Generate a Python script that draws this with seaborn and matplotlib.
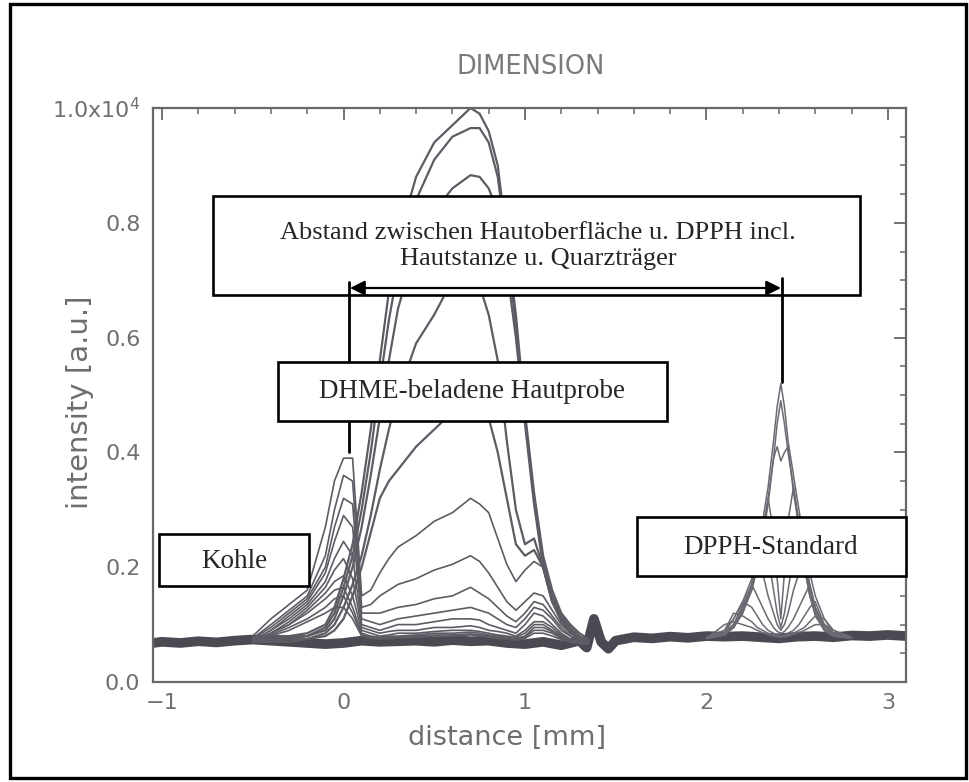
import matplotlib
matplotlib.use("Agg")
import matplotlib.pyplot as plt
from matplotlib.patches import Rectangle, FancyArrowPatch
from matplotlib.lines import Line2D
from matplotlib.ticker import MultipleLocator
import pandas as pd
import seaborn as sns

# ---------------------------------------------------------------------------
# Profile data (distance in mm, intensity in units of 1e4)
# ---------------------------------------------------------------------------

# noisy common baseline over the whole scan range
BASE_X = [-1.05, -1.0, -0.9, -0.8, -0.7, -0.6, -0.5, -0.4, -0.3, -0.2, -0.1, 0.0,
          0.1, 0.2, 0.3, 0.4, 0.5, 0.6, 0.7, 0.8, 0.9, 1.0, 1.1, 1.2, 1.3, 1.34,
          1.38, 1.42, 1.46, 1.5, 1.6, 1.7, 1.8, 1.9, 2.0, 2.1, 2.2, 2.3, 2.4, 2.5,
          2.6, 2.7, 2.8, 2.9, 3.0, 3.1]
BASE_Y = [0.068, 0.070, 0.068, 0.071, 0.069, 0.072, 0.074, 0.072, 0.070, 0.068,
          0.066, 0.068, 0.072, 0.070, 0.071, 0.072, 0.070, 0.073, 0.071, 0.072,
          0.068, 0.066, 0.070, 0.064, 0.072, 0.060, 0.110, 0.070, 0.058, 0.072,
          0.078, 0.076, 0.079, 0.077, 0.080, 0.079, 0.080, 0.078, 0.076, 0.079,
          0.080, 0.078, 0.081, 0.080, 0.082, 0.080]

# carbon marker + skin sample region
SKIN_X = [-0.5, -0.4, -0.3, -0.2, -0.1, -0.05, 0.0, 0.05, 0.1, 0.15, 0.2, 0.25,
          0.3, 0.4, 0.5, 0.6, 0.7, 0.75, 0.8, 0.85, 0.9, 0.95, 1.0, 1.05, 1.1,
          1.15, 1.2, 1.25, 1.3, 1.35]

DOME_1 = [0.075, 0.08, 0.08, 0.085, 0.10, 0.13, 0.18, 0.24, 0.33, 0.44, 0.56, 0.68,
          0.77, 0.88, 0.94, 0.97, 1.0, 0.99, 0.96, 0.90, 0.77, 0.64, 0.47, 0.33,
          0.22, 0.16, 0.12, 0.10, 0.085, 0.075]
DOME_2 = [0.072, 0.075, 0.08, 0.08, 0.095, 0.12, 0.165, 0.22, 0.30, 0.40, 0.52, 0.63,
          0.72, 0.84, 0.91, 0.95, 0.965, 0.965, 0.94, 0.88, 0.76, 0.62, 0.46, 0.32,
          0.21, 0.15, 0.115, 0.095, 0.08, 0.072]
DOME_3 = [0.07, 0.075, 0.075, 0.08, 0.09, 0.11, 0.15, 0.20, 0.27, 0.36, 0.46, 0.56,
          0.65, 0.76, 0.82, 0.86, 0.883, 0.88, 0.86, 0.82, 0.72, 0.60, 0.45, 0.31,
          0.20, 0.14, 0.11, 0.09, 0.078, 0.07]
DOME_4 = [0.07, 0.07, 0.075, 0.075, 0.085, 0.10, 0.13, 0.17, 0.22, 0.29, 0.37, 0.44,
          0.50, 0.59, 0.64, 0.70, 0.72, 0.69, 0.64, 0.56, 0.42, 0.30, 0.24, 0.25,
          0.20, 0.14, 0.11, 0.09, 0.075, 0.07]
DOME_5 = [0.07, 0.07, 0.07, 0.075, 0.08, 0.09, 0.11, 0.15, 0.20, 0.26, 0.32, 0.35,
          0.37, 0.41, 0.44, 0.47, 0.50, 0.49, 0.46, 0.40, 0.32, 0.24, 0.22, 0.23,
          0.20, 0.14, 0.105, 0.085, 0.075, 0.07]

SCAN_1 = [0.08, 0.11, 0.135, 0.16, 0.27, 0.35, 0.39, 0.39, 0.15, 0.16, 0.19, 0.215,
          0.235, 0.255, 0.28, 0.295, 0.32, 0.31, 0.295, 0.25, 0.205, 0.175, 0.195,
          0.21, 0.20, 0.15, 0.115, 0.09, 0.075, 0.07]
SCAN_2 = [0.076, 0.10, 0.125, 0.15, 0.22, 0.30, 0.36, 0.35, 0.13, 0.135, 0.15, 0.16,
          0.17, 0.18, 0.195, 0.205, 0.22, 0.21, 0.19, 0.165, 0.14, 0.125, 0.14,
          0.155, 0.15, 0.125, 0.10, 0.085, 0.075, 0.07]
SCAN_3 = [0.075, 0.095, 0.12, 0.145, 0.20, 0.27, 0.32, 0.31, 0.12, 0.12, 0.12, 0.125,
          0.13, 0.135, 0.145, 0.15, 0.165, 0.155, 0.145, 0.13, 0.115, 0.105, 0.12,
          0.14, 0.135, 0.115, 0.095, 0.08, 0.072, 0.068]
SCAN_4 = [0.072, 0.09, 0.115, 0.14, 0.19, 0.245, 0.29, 0.27, 0.11, 0.105, 0.10, 0.105,
          0.11, 0.115, 0.12, 0.125, 0.13, 0.125, 0.12, 0.11, 0.10, 0.095, 0.11, 0.13,
          0.125, 0.11, 0.09, 0.08, 0.072, 0.068]
SCAN_5 = [0.072, 0.09, 0.11, 0.135, 0.175, 0.215, 0.245, 0.22, 0.10, 0.095, 0.09,
          0.095, 0.10, 0.10, 0.105, 0.11, 0.11, 0.108, 0.10, 0.095, 0.09, 0.085, 0.10,
          0.12, 0.115, 0.10, 0.085, 0.075, 0.07, 0.066]
SCAN_6 = [0.07, 0.085, 0.105, 0.13, 0.165, 0.195, 0.215, 0.18, 0.095, 0.09, 0.085,
          0.088, 0.09, 0.09, 0.095, 0.095, 0.098, 0.095, 0.09, 0.088, 0.085, 0.08,
          0.09, 0.105, 0.105, 0.095, 0.082, 0.074, 0.068, 0.066]
SCAN_7 = [0.07, 0.085, 0.10, 0.125, 0.155, 0.175, 0.185, 0.15, 0.09, 0.085, 0.08,
          0.082, 0.085, 0.085, 0.088, 0.09, 0.09, 0.088, 0.085, 0.082, 0.08, 0.078,
          0.085, 0.10, 0.10, 0.09, 0.08, 0.072, 0.068, 0.066]
SCAN_8 = [0.07, 0.085, 0.10, 0.12, 0.145, 0.16, 0.165, 0.13, 0.085, 0.08, 0.078,
          0.08, 0.08, 0.082, 0.085, 0.085, 0.087, 0.085, 0.082, 0.08, 0.078, 0.076,
          0.08, 0.095, 0.095, 0.088, 0.078, 0.072, 0.068, 0.066]
SCAN_9 = [0.07, 0.082, 0.095, 0.11, 0.13, 0.145, 0.15, 0.12, 0.082, 0.078, 0.076,
          0.078, 0.078, 0.08, 0.082, 0.082, 0.084, 0.082, 0.08, 0.078, 0.076, 0.074,
          0.078, 0.09, 0.09, 0.085, 0.076, 0.07, 0.067, 0.066]
SCAN_10 = [0.07, 0.08, 0.09, 0.105, 0.12, 0.13, 0.13, 0.11, 0.08, 0.076, 0.075,
           0.076, 0.077, 0.078, 0.08, 0.08, 0.082, 0.08, 0.078, 0.076, 0.075, 0.073,
           0.076, 0.085, 0.085, 0.08, 0.074, 0.07, 0.067, 0.066]

# DPPH reference region
DPPH_X = [2.0, 2.1, 2.15, 2.2, 2.25, 2.28, 2.31, 2.34, 2.37, 2.39, 2.41, 2.43, 2.45,
          2.48, 2.51, 2.54, 2.57, 2.6, 2.65, 2.7, 2.8]
DPPH_1 = [0.078, 0.09, 0.11, 0.14, 0.18, 0.22, 0.28, 0.34, 0.42, 0.48, 0.52, 0.48,
          0.42, 0.36, 0.30, 0.24, 0.19, 0.15, 0.11, 0.09, 0.078]
DPPH_2 = [0.076, 0.086, 0.10, 0.13, 0.17, 0.21, 0.26, 0.32, 0.39, 0.45, 0.49, 0.45,
          0.40, 0.34, 0.28, 0.22, 0.17, 0.13, 0.10, 0.085, 0.076]
DPPH_3 = [0.076, 0.085, 0.10, 0.125, 0.16, 0.20, 0.25, 0.31, 0.39, 0.41, 0.385, 0.40,
          0.41, 0.33, 0.27, 0.21, 0.16, 0.125, 0.095, 0.08, 0.076]
DPPH_4 = [0.076, 0.083, 0.095, 0.12, 0.16, 0.20, 0.26, 0.32, 0.26, 0.18, 0.11, 0.19,
          0.28, 0.34, 0.27, 0.20, 0.15, 0.12, 0.09, 0.08, 0.077]
DPPH_5 = [0.076, 0.082, 0.095, 0.12, 0.17, 0.22, 0.26, 0.22, 0.16, 0.12, 0.095, 0.12,
          0.16, 0.22, 0.27, 0.20, 0.15, 0.115, 0.09, 0.08, 0.077]
DPPH_6 = [0.076, 0.082, 0.095, 0.125, 0.17, 0.21, 0.19, 0.15, 0.12, 0.10, 0.09, 0.10,
          0.12, 0.16, 0.19, 0.21, 0.16, 0.12, 0.09, 0.08, 0.077]
DPPH_7 = [0.076, 0.082, 0.10, 0.135, 0.17, 0.15, 0.13, 0.11, 0.095, 0.088, 0.085,
          0.088, 0.095, 0.11, 0.13, 0.15, 0.17, 0.13, 0.095, 0.08, 0.077]
DPPH_8 = [0.076, 0.085, 0.11, 0.14, 0.13, 0.115, 0.10, 0.09, 0.085, 0.082, 0.08,
          0.082, 0.085, 0.09, 0.10, 0.115, 0.13, 0.14, 0.10, 0.082, 0.077]
DPPH_9 = [0.076, 0.09, 0.12, 0.115, 0.105, 0.095, 0.09, 0.085, 0.082, 0.08, 0.08,
          0.08, 0.082, 0.085, 0.09, 0.095, 0.105, 0.115, 0.11, 0.085, 0.077]
DPPH_10 = [0.076, 0.10, 0.105, 0.10, 0.095, 0.09, 0.086, 0.083, 0.08, 0.079, 0.078,
           0.079, 0.08, 0.083, 0.086, 0.09, 0.095, 0.10, 0.10, 0.09, 0.077]

X_TICKS = [-1, 0, 1, 2, 3]
X_TICK_LABELS = ["\u22121", "0", "1", "2", "3"]
Y_TICKS = [0.0, 0.2, 0.4, 0.6, 0.8, 1.0]
Y_TICK_LABELS = ["0.0", "0.2", "0.4", "0.6", "0.8", r"1.0x10$^4$"]


def long_form(x, curves):
    rows = []
    for name, ys in curves.items():
        for xv, yv in zip(x, ys):
            rows.append({"distance": xv, "intensity": yv, "scan": name})
    return pd.DataFrame(rows)


domes = long_form(SKIN_X, {"d1": DOME_1, "d2": DOME_2, "d3": DOME_3,
                           "d4": DOME_4, "d5": DOME_5})
scans = long_form(SKIN_X, {"s1": SCAN_1, "s2": SCAN_2, "s3": SCAN_3, "s4": SCAN_4,
                           "s5": SCAN_5, "s6": SCAN_6, "s7": SCAN_7, "s8": SCAN_8,
                           "s9": SCAN_9, "s10": SCAN_10})
dpph = long_form(DPPH_X, {"p1": DPPH_1, "p2": DPPH_2, "p3": DPPH_3, "p4": DPPH_4,
                          "p5": DPPH_5, "p6": DPPH_6, "p7": DPPH_7, "p8": DPPH_8,
                          "p9": DPPH_9, "p10": DPPH_10})
base = pd.DataFrame({"distance": BASE_X, "intensity": BASE_Y})

# ---------------------------------------------------------------------------
# Figure
# ---------------------------------------------------------------------------
sns.set_theme(style="white")
plt.rcParams["font.family"] = ["DejaVu Sans"]
plt.rcParams["mathtext.fontset"] = "dejavusans"

W, H = 970, 782
fig = plt.figure(figsize=(W / 100, H / 100), dpi=100)
fig.patch.set_facecolor("white")


def fx(px):
    return px / W


def fy(py):
    return 1 - py / H


ax = fig.add_axes([fx(153), fy(682), (906 - 153) / W, (682 - 108) / H])
ax.set_facecolor("white")

line_col = "#5c5c64"
sns.lineplot(data=base, x="distance", y="intensity", color="#4a4a52", lw=7,
             estimator=None, sort=False, legend=False, ax=ax)
sns.lineplot(data=scans, x="distance", y="intensity", units="scan", estimator=None,
             sort=False, color=line_col, lw=1.2, legend=False, ax=ax)
sns.lineplot(data=domes, x="distance", y="intensity", units="scan", estimator=None,
             sort=False, color=line_col, lw=1.6, legend=False, ax=ax)
sns.lineplot(data=dpph, x="distance", y="intensity", units="scan", estimator=None,
             sort=False, color="#6a6a72", lw=1.1, legend=False, ax=ax)

ax.set_xlim(-1.05, 3.1)
ax.set_ylim(0.0, 1.0)
ax.set_xticks(X_TICKS)
ax.set_xticklabels(X_TICK_LABELS)
ax.set_yticks(Y_TICKS)
ax.set_yticklabels(Y_TICK_LABELS)
ax.xaxis.set_minor_locator(MultipleLocator(0.2))
ax.yaxis.set_minor_locator(MultipleLocator(0.05))

spine_col = "#686868"
for sp in ax.spines.values():
    sp.set_color(spine_col)
    sp.set_linewidth(1.6)
ax.tick_params(which="both", direction="in", top=True, right=True,
               color=spine_col, labelcolor="#707070")
ax.tick_params(which="major", length=8.5, width=1.3, labelsize=16)
ax.tick_params(which="minor", length=4.5, width=1.1)
ax.tick_params(axis="y", pad=9)
ax.tick_params(axis="x", pad=8)

ax.set_xlabel("distance [mm]", fontsize=19.5, color="#6e6e6e")
ax.set_ylabel("intensity [a.u.]", fontsize=21, color="#6e6e6e")
ax.xaxis.set_label_coords((507 - 153) / 753, (682 - 725) / 574)
ax.yaxis.set_label_coords((94 - 153) / 753, (682 - 402) / 574)

fig.text(fx(531), fy(67), "DIMENSION", ha="center", va="center", fontsize=18.5,
         color="#7a7a7a")

# ---------------------------------------------------------------------------
# Annotation boxes, connectors and the distance arrow
# ---------------------------------------------------------------------------
serif = ["Liberation Serif", "DejaVu Serif"]


def label_box(x0, y0, x1, y1, z):
    fig.add_artist(Rectangle((fx(x0), fy(y1)), (x1 - x0) / W, (y1 - y0) / H,
                             transform=fig.transFigure, facecolor="white",
                             edgecolor="black", lw=1.9, zorder=z))


label_box(213, 196, 860, 295, 4)
fig.text(fx(538), fy(246),
         "Abstand zwischen Hautoberfl\u00e4che u. DPPH incl.\nHautstanze u. Quarztr\u00e4ger",
         ha="center", va="center", fontsize=19, family=serif, linespacing=1.2,
         zorder=4.5)

fig.add_artist(Line2D([fx(349), fx(349)], [fy(282), fy(452)],
                      transform=fig.transFigure, color="black", lw=2, zorder=5))
fig.add_artist(Line2D([fx(782), fx(782)], [fy(278), fy(382)],
                      transform=fig.transFigure, color="black", lw=2, zorder=5))
fig.add_artist(FancyArrowPatch((fx(350), fy(288)), (fx(781), fy(288)),
                               transform=fig.transFigure, arrowstyle="<|-|>",
                               mutation_scale=22, lw=1.6, color="black",
                               shrinkA=0, shrinkB=0, zorder=5))

label_box(278, 362, 667, 421, 6)
fig.text(fx(472), fy(392), "DHME-beladene Hautprobe", ha="center", va="center",
         fontsize=19.5, family=serif, zorder=6.5)

label_box(159, 534, 309, 586, 6)
fig.text(fx(234), fy(561), "Kohle", ha="center", va="center", fontsize=19.5,
         family=serif, zorder=6.5)

label_box(637, 517, 906, 576, 6)
fig.text(fx(771), fy(547), "DPPH-Standard", ha="center", va="center",
         fontsize=19.5, family=serif, zorder=6.5)

# outer frame
fig.add_artist(Rectangle((fx(10), fy(778)), (966 - 10) / W, (778 - 4) / H,
                         transform=fig.transFigure, fill=False, edgecolor="black",
                         lw=2.4, zorder=10))

fig.savefig("out.png", dpi=100)
